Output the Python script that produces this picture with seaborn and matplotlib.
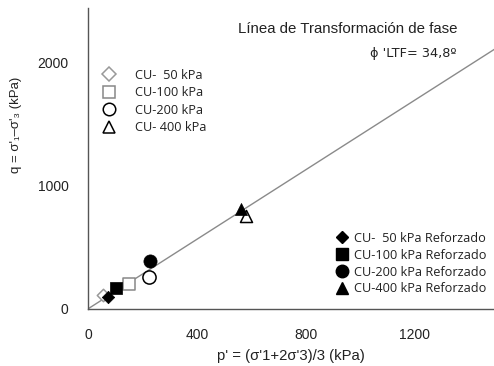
import matplotlib
matplotlib.use("Agg")
import matplotlib.pyplot as plt
import seaborn as sns
import numpy as np
import pandas as pd
from matplotlib.lines import Line2D

sns.set_theme(style="white")
plt.rcParams['font.family'] = ['Liberation Sans', 'DejaVu Sans']

# Data
open_labels = ["CU-  50 kPa", "CU-100 kPa", "CU-200 kPa", "CU- 400 kPa"]
open_p = [55, 151, 224, 580]
open_q = [110, 202, 259, 753]

ref_labels = ["CU-  50 kPa Reforzado", "CU-100 kPa Reforzado",
              "CU-200 kPa Reforzado", "CU-400 kPa Reforzado"]
ref_p = [73, 103, 228, 560]
ref_q = [100, 170, 389, 807]

markers = ["D", "s", "o", "^"]
open_edge = ["#999999", "#888888", "black", "black"]
marker_sizes = [40, 75, 90, 75]

ltf_slope = 1.41
line_x = [0, 1500]

fig = plt.figure(figsize=(4.94, 3.66), dpi=100)
ax = fig.add_axes([0.178, 0.156, 0.822, 0.822])

# LTF line
line_df = pd.DataFrame({"p": line_x, "q": [ltf_slope * v for v in line_x]})
sns.lineplot(data=line_df, x="p", y="q", ax=ax, color="#8a8a8a", lw=1.0, zorder=1)

df_open = pd.DataFrame({"p": open_p, "q": open_q, "lab": open_labels})
df_ref = pd.DataFrame({"p": ref_p, "q": ref_q, "lab": ref_labels})

for i in range(4):
    sns.scatterplot(data=df_open.iloc[[i]], x="p", y="q", ax=ax, marker=markers[i],
                    s=marker_sizes[i], facecolor="white", edgecolor=open_edge[i],
                    linewidth=1.1, zorder=2, legend=False)
for i in range(4):
    sns.scatterplot(data=df_ref.iloc[[i]], x="p", y="q", ax=ax, marker=markers[i],
                    s=marker_sizes[i], color="black", edgecolor="black",
                    linewidth=0.5, zorder=3, legend=False)

ax.set_xlim(0, 1490)
ax.set_ylim(0, 2437)
ax.set_xticks([0, 400, 800, 1200])
ax.set_xticks([200, 600, 1000, 1400], minor=True)
ax.set_yticks([0, 1000, 2000])
ax.set_yticks([500, 1500], minor=True)

for s in ["top", "right"]:
    ax.spines[s].set_visible(False)
for s in ["left", "bottom"]:
    ax.spines[s].set_color("#555555")
    ax.spines[s].set_linewidth(1.0)

ax.tick_params(axis="both", which="both", direction="out", colors="#555555",
               labelcolor="#222222", labelsize=10)
ax.tick_params(axis="y", which="major", length=11, width=1.0, pad=3)
ax.tick_params(axis="y", which="minor", length=5, width=1.0)
ax.tick_params(axis="x", which="major", length=8, width=1.0, pad=6)
ax.tick_params(axis="x", which="minor", length=4, width=1.0)

ax.set_xlabel("p' = (σ'1+2σ'3)/3 (kPa)", fontsize=10.7, color="#222222", labelpad=5)
ax.set_ylabel("q = σ'₁–σ'₃ (kPa)", fontsize=9.5, color="#222222")
ax.yaxis.set_label_coords(-0.163, 0.611)

ax.text(0.640, 0.932, "Línea de Transformación de fase", transform=ax.transAxes,
        ha="center", va="center", fontsize=10.8, color="#222222")
ax.text(0.800, 0.850, "ϕ 'LTF= 34,8º", transform=ax.transAxes,
        ha="center", va="center", fontsize=9.3, color="#222222",
        family=["DejaVu Sans"])

leg_font = {"family": ["Open Sans", "DejaVu Sans"], "size": 9.2}
h_open = [Line2D([], [], ls="", marker=markers[i], markersize=[7, 9, 9, 8][i],
                 markerfacecolor="white", markeredgecolor=open_edge[i], markeredgewidth=1.1)
          for i in range(4)]
leg1 = ax.legend(h_open, open_labels, loc="upper left", bbox_to_anchor=(0.02, 0.815),
                 frameon=False, prop=leg_font, handletextpad=1.45, labelspacing=0.35,
                 handlelength=1.2, labelcolor="#222222", borderaxespad=0)
ax.add_artist(leg1)
h_ref = [Line2D([], [], ls="", marker=markers[i], markersize=[6, 9, 9, 8][i],
                markerfacecolor="black", markeredgecolor="black")
         for i in range(4)]
ax.legend(h_ref, ref_labels, loc="lower right", bbox_to_anchor=(0.995, 0.028),
          frameon=False, prop=leg_font, handletextpad=0.5, labelspacing=0.3,
          handlelength=1.0, labelcolor="#222222", borderaxespad=0)

fig.savefig("out.png", dpi=100)
